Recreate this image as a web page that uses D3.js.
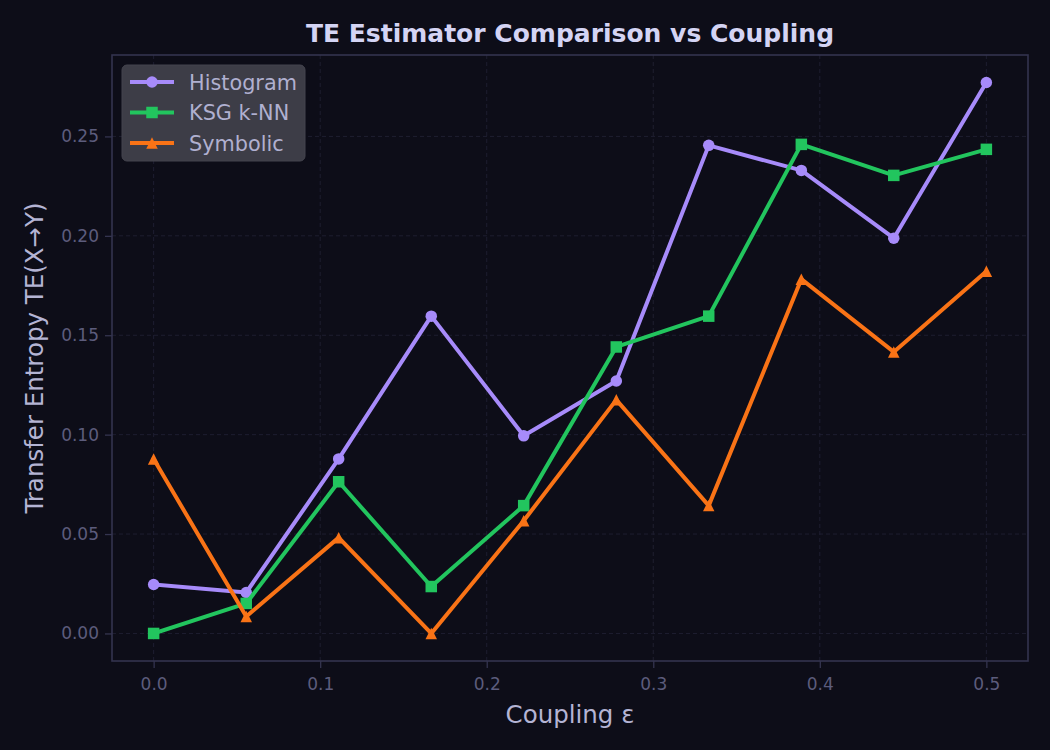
<!DOCTYPE html>
<html>
<head>
<meta charset="utf-8">
<script src="https://cdn.jsdelivr.net/npm/d3@7"></script>
<style>
  html, body { margin: 0; padding: 0; background: #0d0d18; }
  svg { display: block; font-family: "DejaVu Sans", sans-serif; }
</style>
</head>
<body>
<svg id="chart" width="1050" height="750"></svg>
<script>
const couplings = [0, 0.0556, 0.1111, 0.1667, 0.2222, 0.2778, 0.3333, 0.3889, 0.4444, 0.5];
const histogram = [0.0246, 0.0206, 0.0878, 0.1596, 0.0994, 0.1270, 0.2455, 0.2329, 0.1988, 0.2771];
const ksg = [0.0000, 0.0151, 0.0763, 0.0236, 0.0643, 0.1441, 0.1596, 0.2460, 0.2304, 0.2435];
const symbolic = [0.0878, 0.0085, 0.0482, 0.0000, 0.0567, 0.1175, 0.0643, 0.1782, 0.1416, 0.1822];
const xTicks = [0.0, 0.1, 0.2, 0.3, 0.4, 0.5];
const yTicks = [0.00, 0.05, 0.10, 0.15, 0.20, 0.25];
const seriesNames = ["Histogram", "KSG k-NN", "Symbolic"];
const seriesColors = ["#a78bfa", "#22c55e", "#f97316"];
const seriesMarkers = ["circle", "square", "triangle"];

const series = [histogram, ksg, symbolic].map((vals, i) => ({
  name: seriesNames[i], color: seriesColors[i], marker: seriesMarkers[i],
  points: vals.map((v, j) => ({x: couplings[j], y: v}))
}));

const svg = d3.select("#chart");
const W = 1050, H = 750;
const m = {left: 112, right: 1028, top: 55, bottom: 661};
svg.append("rect").attr("width", W).attr("height", H).attr("fill", "#0d0d18");

const allY = [].concat(histogram, ksg, symbolic);
const yMin = d3.min(allY), yMax = d3.max(allY);
const yPad = (yMax - yMin) * 0.05;
const xPad = (0.5 - 0) * 0.05;
const x = d3.scaleLinear().domain([0 - xPad, 0.5 + xPad]).range([m.left, m.right]);
const y = d3.scaleLinear().domain([yMin - yPad, yMax + yPad]).range([m.bottom, m.top]);

// grid
const grid = svg.append("g");
grid.selectAll(".gx").data(xTicks).join("line")
  .attr("x1", d => x(d)).attr("x2", d => x(d)).attr("y1", m.top).attr("y2", m.bottom)
  .attr("stroke", "#1e1e30").attr("stroke-width", 1).attr("stroke-dasharray", "4,3");
grid.selectAll(".gy").data(yTicks).join("line")
  .attr("y1", d => y(d)).attr("y2", d => y(d)).attr("x1", m.left).attr("x2", m.right)
  .attr("stroke", "#1e1e30").attr("stroke-width", 1).attr("stroke-dasharray", "4,3");

// axes
const tickColor = "#5c5c7c";
const spineColor = "#34344f";
const xAxis = svg.append("g").attr("transform", `translate(0,${m.bottom})`)
  .call(d3.axisBottom(x).tickValues(xTicks).tickFormat(d3.format(".1f")).tickSize(7).tickPadding(6));
const yAxis = svg.append("g").attr("transform", `translate(${m.left},0)`)
  .call(d3.axisLeft(y).tickValues(yTicks).tickFormat(d3.format(".2f")).tickSize(7).tickPadding(6));
[xAxis, yAxis].forEach(a => {
  a.select(".domain").remove();
  a.selectAll(".tick line").attr("stroke", spineColor).attr("stroke-width", 1.3);
  a.selectAll(".tick text").attr("fill", tickColor).attr("font-size", 17)
    .attr("font-family", "DejaVu Sans, sans-serif");
});
xAxis.selectAll(".tick text").attr("dy", "0.95em");

// spines
svg.append("rect").attr("x", m.left).attr("y", m.top)
  .attr("width", m.right - m.left).attr("height", m.bottom - m.top)
  .attr("fill", "none").attr("stroke", spineColor).attr("stroke-width", 1.6);

// lines
const line = d3.line().x(d => x(d.x)).y(d => y(d.y));
const ms = 11.5;
function drawMarker(sel, type, color) {
  if (type === "circle") {
    sel.append("circle").attr("r", ms / 2).attr("fill", color);
  } else if (type === "square") {
    sel.append("rect").attr("x", -ms / 2).attr("y", -ms / 2).attr("width", ms).attr("height", ms).attr("fill", color);
  } else {
    sel.append("path").attr("d", `M0,${-ms / 2}L${ms / 2},${ms / 2}L${-ms / 2},${ms / 2}Z`).attr("fill", color);
  }
}
series.forEach(s => {
  const g = svg.append("g");
  g.append("path").datum(s.points).attr("d", line).attr("fill", "none")
    .attr("stroke", s.color).attr("stroke-width", 4).attr("stroke-linejoin", "round").attr("stroke-linecap", "square");
  g.selectAll("g.mk").data(s.points).join("g")
    .attr("transform", d => `translate(${x(d.x)},${y(d.y)})`)
    .each(function () { drawMarker(d3.select(this), s.marker, s.color); });
});

// title and labels
svg.append("text").attr("x", (m.left + m.right) / 2).attr("y", 42).attr("text-anchor", "middle")
  .attr("font-size", 25).attr("font-weight", "bold").attr("fill", "#d4d4f4")
  .text("TE Estimator Comparison vs Coupling");
svg.append("text").attr("x", (m.left + m.right) / 2).attr("y", 723).attr("text-anchor", "middle")
  .attr("font-size", 24.5).attr("fill", "#b4b4d4").text("Coupling ε");
svg.append("text").attr("transform", `translate(43,${(m.top + m.bottom) / 2}) rotate(-90)`)
  .attr("text-anchor", "middle").attr("font-size", 24.5).attr("fill", "#b4b4d4")
  .text("Transfer Entropy TE(X→Y)");

// legend
const lg = svg.append("g").attr("transform", "translate(122,65)");
lg.append("rect").attr("width", 183).attr("height", 96).attr("rx", 5)
  .attr("fill", "#3d3d47").attr("stroke", "#45454f").attr("stroke-width", 1);
series.forEach((s, i) => {
  const row = lg.append("g").attr("transform", `translate(0,${17 + i * 30.5})`);
  row.append("line").attr("x1", 8).attr("x2", 52).attr("stroke", s.color).attr("stroke-width", 4);
  const mk = row.append("g").attr("transform", "translate(30,0)");
  drawMarker(mk, s.marker, s.color);
  row.append("text").attr("x", 67).attr("y", 7.5).attr("font-size", 20.8).attr("fill", "#b0b0d0").text(s.name);
});
</script>
</body>
</html>
